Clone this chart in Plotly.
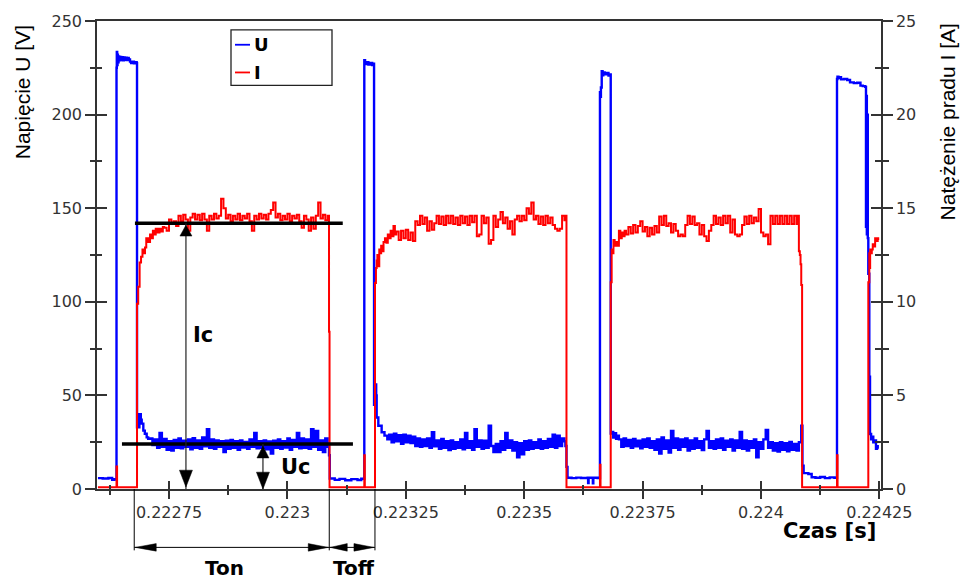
import plotly.graph_objects as go

# ---------------- DATA ----------------
T_ORIGIN = 0.2226          # s ; all times below are microseconds after this instant

# Voltage U [V] : isolated readings (t_us, V) around the switching edges
U_EDGE_POINTS = [
    (0, 5.8), (10, 5.6), (22, 5.9), (30, 4.9), (35, 5.3),
    (39.2, 225.0), (39.8, 233.5), (40.6, 226.5), (41.4, 232.0), (42.2, 228.0), (43.5, 231.0),
    (45, 229.0), (47, 230.8), (49, 229.2), (51, 230.6), (53, 229.0), (55, 230.5), (57, 229.3),
    (59, 230.4), (61, 229.1), (63, 230.2), (65, 229.4), (67.7, 228.3), (70, 227.6), (73, 228.2),
    (76, 227.4), (79, 228.0), (81.8, 227.5),
    (82.5, 33.0), (87.5, 40.0), (90.5, 37.0), (92.4, 34.9), (95.8, 31.2), (99, 29.5),
    (102.9, 27.6), (106, 26.8),
    (487.9, 18.0), (489.5, 5.6), (500, 4.9), (510, 5.4), (522, 4.7), (535, 5.3), (548, 4.8), (556, 5.5),
    (562.4, 229.0), (564, 227.0), (567, 228.0), (571, 226.8), (575, 227.6), (579, 226.5), (582.5, 227.2),
    (583, 45.0), (585, 55.9), (587.5, 50.0), (588.5, 38.2), (592, 33.8), (599, 30.3), (605, 28.5), (611, 26.5),
    (987, 23.0), (989.3, 11.8), (991.5, 6.0), (1000, 5.8), (1010, 6.1), (1020, 5.9), (1034, 6.1),
    (1035, 3.2), (1036, 6.0), (1045, 3.0), (1046, 6.0), (1055, 5.8),
    (1060, 212.0), (1061, 209.5), (1062, 214.5), (1063.7, 223.2), (1065.5, 221.0), (1067, 222.5),
    (1070, 221.5), (1074, 222.2), (1078, 220.8), (1082, 221.5),
    (1082.7, 29.6), (1085, 30.5), (1088, 27.5), (1091, 29.8), (1094, 26.8), (1097, 28.5),
    (1487.5, 12.5), (1490, 8.5), (1500, 8.0), (1507, 6.3), (1515, 6.0), (1525, 6.4), (1535, 5.8),
    (1545, 6.2), (1555, 6.0),
    (1560.5, 219.0), (1561.5, 220.2), (1563.5, 219.5), (1566, 220.0), (1569, 218.8), (1575, 219.0),
    (1582, 218.5), (1588, 217.2), (1596, 216.8), (1603, 217.0), (1610, 215.5), (1615, 215.2), (1620, 214.8),
    (1621.7, 140.0), (1622.6, 210.0), (1623.5, 136.0), (1624.5, 200.0), (1625.5, 134.0), (1626.6, 115.0),
    (1628.7, 60.0), (1630.2, 29.4), (1632.5, 26.5), (1635, 28.0), (1637.1, 25.0), (1639.5, 26.0),
    (1642.8, 21.5), (1645, 22.8), (1646.5, 21.5),
]
# Voltage noise during the three conduction phases, read every 5 us (start_us, end_us, values)
U_ON1 = (110, 485, [
    27.0, 23.5, 26.5, 22.0, 30.0, 22.5, 26.8, 21.0, 25.5, 20.6,
    26.2, 22.0, 27.0, 21.8, 25.8, 22.5, 26.5, 21.2, 27.2, 22.0,
    26.0, 21.5, 27.5, 22.8, 32.0, 22.0, 26.5, 21.5, 26.0, 22.5,
    25.5, 19.7, 25.8, 21.5, 26.2, 22.0, 25.5, 21.0, 26.0, 22.2,
    25.2, 21.5, 26.5, 22.5, 30.0, 21.8, 25.5, 22.0, 26.0, 21.2,
    25.4, 19.0, 25.8, 22.0, 26.5, 21.5, 25.6, 22.2, 27.0, 21.0,
    26.2, 22.5, 30.0, 21.8, 27.0, 22.0, 26.5, 21.5, 32.0, 22.5,
    31.0, 21.0, 26.0, 19.7, 27.0, 22.5])
U_ON2 = (615, 985, [
    29.0, 25.0, 29.5, 25.5, 28.8, 24.2, 29.0, 25.0, 28.5, 24.5,
    28.0, 23.0, 27.0, 22.5, 26.5, 23.0, 27.0, 22.0, 30.3, 22.8,
    26.0, 21.5, 26.8, 22.0, 25.5, 20.8, 26.0, 21.5, 25.0, 22.0,
    26.5, 21.2, 30.0, 22.0, 25.5, 21.0, 32.0, 22.5, 26.0, 21.5,
    25.8, 22.0, 33.8, 23.0, 19.7, 24.0, 19.8, 25.5, 21.0, 30.0,
    22.0, 26.0, 20.5, 25.0, 17.0, 24.5, 18.5, 25.5, 21.0, 26.0,
    21.5, 25.0, 22.0, 26.5, 21.5, 25.5, 22.0, 26.8, 22.5, 29.0,
    22.0, 28.5, 23.0, 27.0, 25.5])
U_ON3 = (1100, 1485, [
    26.5, 22.5, 27.0, 23.0, 26.2, 22.0, 26.8, 22.8, 25.8, 21.8,
    26.5, 22.5, 27.0, 22.0, 25.5, 21.0, 26.5, 19.0, 27.5, 21.5,
    26.0, 19.5, 31.0, 22.0, 27.0, 21.0, 26.5, 22.5, 27.0, 20.5,
    26.0, 21.5, 27.0, 22.0, 25.5, 20.8, 26.5, 31.0, 22.0, 25.5,
    21.5, 26.5, 22.0, 27.0, 21.0, 25.8, 22.5, 26.5, 20.5, 26.0,
    22.0, 30.5, 21.5, 26.0, 20.5, 25.5, 22.0, 26.5, 17.0, 25.0,
    21.5, 26.5, 31.5, 22.0, 25.0, 20.5, 24.5, 20.0, 25.0, 21.0,
    24.5, 20.2, 25.2, 21.0, 24.0, 20.5, 25.0, 33.8])

# Current I [A] : isolated readings (t_us, A)
I_EDGE_POINTS = [
    (0, 0.1), (39.2, 1.2), (40.4, 0.1),
    (82.5, 9.9), (85, 10.8), (88, 12.1), (91, 12.4), (94, 12.8), (97, 12.6), (99.3, 12.9),
    (102, 13.4), (106, 13.2), (110, 13.6), (113, 13.4), (116, 13.8), (119, 13.6), (122, 13.9),
    (126, 13.7), (130, 13.9), (134, 13.75), (137, 14.0),
    (487.9, 8.4), (489, 0.1),
    (562.4, 1.8), (563.5, 0.1),
    (585, 11.0), (587, 11.8), (588.5, 12.2), (590, 12.5), (592, 11.9), (594, 12.8), (596, 12.6),
    (598, 13.0), (600, 12.7), (603, 13.2), (606, 13.4), (609, 13.15), (612, 13.6), (615, 13.4),
    (618, 13.8), (621, 13.5), (624, 14.05), (627, 13.6), (630, 13.75),
    (988.5, 14.6), (989.3, 0.1),
    (1060, 1.3), (1061.2, 0.1),
    (1082.7, 11.05), (1084.7, 12.8), (1086.5, 12.6), (1088.5, 13.3), (1091, 13.0), (1094, 13.2),
    (1097, 13.0), (1100, 13.8), (1103, 13.4), (1106, 13.7), (1109, 13.5), (1112, 13.8),
    (1478, 14.6), (1480, 12.7), (1482, 12.5), (1483.5, 12.0), (1485, 10.9), (1486.8, 0.1),
    (1560.5, 1.8), (1561.7, 0.1),
    (1626.6, 11.05), (1628.7, 12.6), (1629.5, 11.8), (1630.5, 12.8), (1632.5, 12.6), (1634, 12.8),
    (1636, 13.07), (1639, 12.95), (1641, 13.4), (1644, 13.25), (1646.5, 13.4), (1647.5, 13.3),
]
I_ON1 = (140, 485, [
    13.95, 13.8, 14.4, 14.2, 14.3, 14.05, 14.6, 14.3, 14.65, 14.4,
    13.8, 14.5, 14.7, 14.4, 14.65, 14.35, 14.7, 14.4, 13.8, 14.6,
    14.4, 14.7, 14.45, 14.6, 15.5, 15.0, 14.45, 14.65, 14.3, 14.6,
    14.4, 14.7, 14.35, 14.6, 14.45, 14.7, 14.3, 13.8, 14.6, 14.4,
    14.7, 14.45, 14.65, 14.4, 14.7, 14.9, 15.3, 14.5, 14.7, 14.35,
    14.6, 14.4, 14.7, 14.3, 14.6, 14.45, 14.65, 14.3, 13.95, 14.6,
    14.4, 13.8, 14.5, 13.9, 14.6, 15.3, 14.45, 14.65, 14.35, 14.6])
I_ON2 = (635, 985, [
    13.3, 13.8, 13.4, 13.85, 13.3, 13.7, 13.25, 14.3, 14.1, 14.6,
    14.15, 14.5, 13.8, 14.3, 13.85, 14.2, 14.6, 14.15, 14.55, 14.1,
    14.6, 14.2, 14.6, 14.15, 14.5, 14.1, 14.6, 14.2, 14.55, 14.1,
    14.6, 14.25, 14.6, 13.5, 13.6, 14.6, 14.2, 14.5, 13.1, 13.3,
    14.6, 14.0, 14.4, 14.8, 14.2, 14.5, 13.9, 14.3, 13.6, 14.4,
    14.6, 14.3, 14.6, 14.35, 15.0, 14.7, 15.3, 14.4, 14.6, 14.15,
    14.55, 14.1, 14.6, 14.2, 14.5, 14.1, 13.9, 13.8, 13.9, 14.6,
    14.35])
I_ON3 = (1115, 1475, [
    13.6, 14.0, 13.65, 14.1, 13.7, 14.05, 14.3, 13.75, 14.0, 13.5,
    13.95, 13.6, 14.05, 13.7, 14.55, 14.1, 14.6, 14.05, 14.2, 13.7,
    14.15, 13.8, 13.5, 13.6, 13.5, 14.1, 14.6, 14.15, 14.55, 14.1,
    14.2, 13.6, 14.1, 13.5, 13.25, 13.8, 14.1, 14.6, 14.15, 14.5,
    14.1, 14.6, 14.2, 14.6, 13.7, 14.4, 13.6, 13.5, 13.6, 14.1,
    14.55, 14.15, 14.6, 14.2, 14.5, 14.3, 14.96, 13.7, 13.5, 13.6,
    13.07, 14.6, 14.15, 14.6, 14.15, 14.6, 14.15, 14.6, 14.15, 14.6,
    14.15, 14.6, 14.15])

# Axes
X_RANGE = [0.2225980, 0.2242534]
X_TICKS = [0.22275, 0.223, 0.22325, 0.2235, 0.22375, 0.224, 0.22425]
X_TICK_TEXT = ["0.22275", "0.223", "0.22325", "0.2235", "0.22375", "0.224", "0.22425"]
X_MINOR = [0.222625, 0.222875, 0.223125, 0.223375, 0.223625, 0.223875, 0.224125]
U_RANGE = [0, 250]
U_TICKS = [0, 50, 100, 150, 200, 250]
U_MINOR = [25, 75, 125, 175, 225]
I_RANGE = [0, 25]
I_TICKS = [0, 5, 10, 15, 20, 25]
I_MINOR = [2.5, 7.5, 12.5, 17.5, 22.5]

# Explanatory marks (measured levels and time intervals)
IC_LEVEL = 14.2            # A
UC_LEVEL = 24.0            # V
IC_LINE_T = (0.2226781, 0.2231169)
UC_LINE_T = (0.2226507, 0.2231384)
IC_ARROW_T = 0.2227858
UC_ARROW_T = 0.2229484
TON_T = (0.2226766, 0.2230884)
TOFF_T = (0.2230884, 0.2231849)

# ---------------- BUILD ----------------
def build(points, blocks):
    pts = list(points)
    for t0, t1, vals in blocks:
        n = len(vals)
        pts += [(t0 + (t1 - t0) * i / (n - 1), v) for i, v in enumerate(vals)]
    pts.sort(key=lambda p: p[0])
    return [T_ORIGIN + t * 1e-6 for t, _ in pts], [v for _, v in pts]

tU, U = build(U_EDGE_POINTS, [U_ON1, U_ON2, U_ON3])
tI, I = build(I_EDGE_POINTS, [I_ON1, I_ON2, I_ON3])

W, H = 962, 581
ML, MR, MT, MB = 97, 81, 16, 92
PW, PH = W - ML - MR, H - MT - MB

def x_px(t):
    return ML + (t - X_RANGE[0]) / (X_RANGE[1] - X_RANGE[0]) * PW

def yU_px(u):
    return H - MB - (u - U_RANGE[0]) / (U_RANGE[1] - U_RANGE[0]) * PH

def yI_px(i):
    return H - MB - (i - I_RANGE[0]) / (I_RANGE[1] - I_RANGE[0]) * PH

def pxp(xp):
    return (xp - ML) / PW

def pyp(yp):
    return (H - MB - yp) / PH

AXC = "#333333"
TICKFONT = dict(family="DejaVu Sans", size=16, color="#333333")
BOLD = dict(family="DejaVu Sans", size=21, color="black", weight="bold")

fig = go.Figure()
fig.add_trace(go.Scatter(x=tU, y=U, mode="lines", name="U",
                         line=dict(color="#0000ff", width=2.4, shape="hv"), hoverinfo="skip"))
fig.add_trace(go.Scatter(x=tI, y=I, mode="lines", name="I", yaxis="y2",
                         line=dict(color="#ff0000", width=2.0, shape="hv"), hoverinfo="skip"))
# carriers for the inner halves of the crossing ticks
for xa, ya in (("x2", "y"), ("x", "y3"), ("x", "y4")):
    fig.add_trace(go.Scatter(x=[X_RANGE[0]], y=[0], xaxis=xa, yaxis=ya, mode="lines",
                             line=dict(width=0), hoverinfo="skip", showlegend=False))

common = dict(showgrid=False, zeroline=False, tickcolor=AXC, tickwidth=1.5,
              linecolor=AXC, linewidth=1.5, tickfont=TICKFONT)

fig.update_layout(
    width=W, height=H, margin=dict(l=ML, r=MR, t=MT, b=MB),
    paper_bgcolor="white", plot_bgcolor="white", showlegend=False,
    xaxis=dict(range=X_RANGE, tickmode="array", tickvals=X_TICKS, ticktext=X_TICK_TEXT,
               ticks="outside", ticklen=8, showline=True, mirror=True,
               minor=dict(tickmode="array", tickvals=X_MINOR, ticks="outside", ticklen=4,
                          tickcolor=AXC, tickwidth=1.5), **common),
    xaxis2=dict(range=X_RANGE, overlaying="x", anchor="y", side="bottom", tickmode="array",
                tickvals=X_TICKS, ticks="inside", ticklen=8, showticklabels=False, showline=False,
                minor=dict(tickmode="array", tickvals=X_MINOR, ticks="inside", ticklen=4,
                           tickcolor=AXC, tickwidth=1.5), **common),
    yaxis=dict(range=U_RANGE, tickmode="array", tickvals=U_TICKS, ticks="outside", ticklen=10,
               showline=True, anchor="x",
               minor=dict(tickmode="array", tickvals=U_MINOR, ticks="outside", ticklen=5,
                          tickcolor=AXC, tickwidth=1.5), **common),
    yaxis2=dict(range=I_RANGE, overlaying="y", side="right", anchor="x", tickmode="array",
                tickvals=I_TICKS, ticks="outside", ticklen=10, showline=True,
                minor=dict(tickmode="array", tickvals=I_MINOR, ticks="outside", ticklen=6,
                           tickcolor=AXC, tickwidth=1.5), **common),
    yaxis3=dict(range=U_RANGE, overlaying="y", side="left", anchor="x", tickmode="array",
                tickvals=U_TICKS, ticks="inside", ticklen=10, showticklabels=False, showline=False,
                minor=dict(tickmode="array", tickvals=U_MINOR, ticks="inside", ticklen=5,
                           tickcolor=AXC, tickwidth=1.5), **common),
    yaxis4=dict(range=I_RANGE, overlaying="y", side="right", anchor="x", tickmode="array",
                tickvals=I_TICKS, ticks="inside", ticklen=10, showticklabels=False, showline=False,
                minor=dict(tickmode="array", tickvals=I_MINOR, ticks="inside", ticklen=6,
                           tickcolor=AXC, tickwidth=1.5), **common),
)

shapes = []
# measured levels
shapes.append(dict(type="line", xref="x", yref="y2", x0=IC_LINE_T[0], x1=IC_LINE_T[1],
                   y0=IC_LEVEL, y1=IC_LEVEL, line=dict(color="black", width=3.5)))
shapes.append(dict(type="line", xref="x", yref="y", x0=UC_LINE_T[0], x1=UC_LINE_T[1],
                   y0=UC_LEVEL, y1=UC_LEVEL, line=dict(color="black", width=3.5)))
shapes.append(dict(type="line", xref="x", yref="y2", x0=IC_ARROW_T, x1=IC_ARROW_T,
                   y0=IC_LEVEL, y1=0, line=dict(color="#222222", width=1.2)))
shapes.append(dict(type="line", xref="x", yref="y", x0=UC_ARROW_T, x1=UC_ARROW_T,
                   y0=UC_LEVEL, y1=0, line=dict(color="#222222", width=1.2)))

def tri(tx, ty, direction, length, half):
    if direction == "up":
        p = [(tx, ty), (tx - half, ty + length), (tx + half, ty + length)]
    elif direction == "down":
        p = [(tx, ty), (tx - half, ty - length), (tx + half, ty - length)]
    elif direction == "left":
        p = [(tx, ty), (tx + length, ty - half), (tx + length, ty + half)]
    else:
        p = [(tx, ty), (tx - length, ty - half), (tx - length, ty + half)]
    path = "M {:.5f} {:.5f} L {:.5f} {:.5f} L {:.5f} {:.5f} Z".format(
        *[c for xy in p for c in (pxp(xy[0]), pyp(xy[1]))])
    return dict(type="path", xref="paper", yref="paper", path=path,
                fillcolor="black", line=dict(color="black", width=0.5))

axis_y = yU_px(0)
ic_x, uc_x = x_px(IC_ARROW_T), x_px(UC_ARROW_T)
shapes.append(tri(ic_x, yI_px(IC_LEVEL) + 2, "up", 11, 6))
shapes.append(tri(ic_x, axis_y - 2, "down", 17, 6.5))
shapes.append(tri(uc_x, yU_px(UC_LEVEL) + 2, "up", 12, 6))
shapes.append(tri(uc_x, axis_y, "down", 17, 6.5))

# Ton / Toff dimension
DIM_Y = axis_y + 59
DIM_EXT = axis_y + 62
for t in (TON_T[0], TON_T[1], TOFF_T[1]):
    shapes.append(dict(type="line", xref="paper", yref="paper", x0=pxp(x_px(t)), x1=pxp(x_px(t)),
                       y0=pyp(axis_y), y1=pyp(DIM_EXT), line=dict(color="black", width=1)))
shapes.append(dict(type="line", xref="paper", yref="paper", x0=pxp(x_px(TON_T[0])),
                   x1=pxp(x_px(TOFF_T[1])), y0=pyp(DIM_Y), y1=pyp(DIM_Y),
                   line=dict(color="black", width=1)))
shapes.append(tri(x_px(TON_T[0]) + 1, DIM_Y, "left", 21, 3.8))
shapes.append(tri(x_px(TON_T[1]) - 1, DIM_Y, "right", 20, 3.8))
shapes.append(tri(x_px(TOFF_T[0]) + 1, DIM_Y, "left", 17, 3.8))
shapes.append(tri(x_px(TOFF_T[1]) - 1, DIM_Y, "right", 20, 3.8))

# legend (drawn by hand to match the compact box)
LEG = dict(x0=231, y0=25, x1=332, y1=81)
shapes.append(dict(type="rect", xref="paper", yref="paper", x0=pxp(LEG["x0"]), x1=pxp(LEG["x1"]),
                   y0=pyp(LEG["y1"]), y1=pyp(LEG["y0"]), line=dict(color="#222222", width=1.3),
                   fillcolor="rgba(0,0,0,0)"))
for yy, col in ((40, "#0000ff"), (68, "#ff0000")):
    shapes.append(dict(type="line", xref="paper", yref="paper", x0=pxp(235), x1=pxp(250),
                       y0=pyp(yy), y1=pyp(yy), line=dict(color=col, width=1.8)))

annotations = [
    dict(text="U", xref="paper", yref="paper", x=pxp(252), y=pyp(40), xanchor="left",
         yanchor="middle", showarrow=False, font=dict(family="DejaVu Sans", size=18, color="black", weight="bold")),
    dict(text="I", xref="paper", yref="paper", x=pxp(252), y=pyp(68), xanchor="left",
         yanchor="middle", showarrow=False, font=dict(family="DejaVu Sans", size=18, color="black", weight="bold")),
    dict(text="Napięcie U [V]", xref="paper", yref="paper", x=pxp(22), y=pyp(88), textangle=-90,
         showarrow=False, xanchor="center", yanchor="middle",
         font=dict(family="Liberation Sans", size=21, color="black")),
    dict(text="Natężenie pradu I [A]", xref="paper", yref="paper", x=pxp(947), y=pyp(118.5),
         textangle=-90, showarrow=False, xanchor="center", yanchor="middle",
         font=dict(family="Liberation Sans", size=21, color="black")),
    dict(text="Czas [s]", xref="paper", yref="paper", x=pxp(829), y=pyp(531), showarrow=False,
         xanchor="center", yanchor="middle", font=BOLD),
    dict(text="Ic", xref="x", yref="y2", x=IC_ARROW_T, y=IC_LEVEL / 2, xshift=17, yshift=21,
         showarrow=False, xanchor="center", yanchor="middle", font=BOLD),
    dict(text="Uc", xref="x", yref="y", x=UC_ARROW_T, y=0, xshift=33, yshift=22.5,
         showarrow=False, xanchor="center", yanchor="middle", font=BOLD),
    dict(text="Ton", xref="x", yref="paper", x=(TON_T[0] + TON_T[1]) / 2, xshift=-7, y=pyp(569),
         showarrow=False, xanchor="center", yanchor="middle",
         font=dict(family="DejaVu Sans", size=20, color="black", weight="bold")),
    dict(text="Toff", xref="x", yref="paper", x=(TOFF_T[0] + TOFF_T[1]) / 2, xshift=2, y=pyp(569),
         showarrow=False, xanchor="center", yanchor="middle",
         font=dict(family="DejaVu Sans", size=20, color="black", weight="bold")),
]
fig.update_layout(shapes=shapes, annotations=annotations)
fig.write_html("out.html", config={"displayModeBar": False},
               post_script="document.body.style.margin='0';document.body.style.padding='0';"
                           "document.body.style.overflow='hidden';")
